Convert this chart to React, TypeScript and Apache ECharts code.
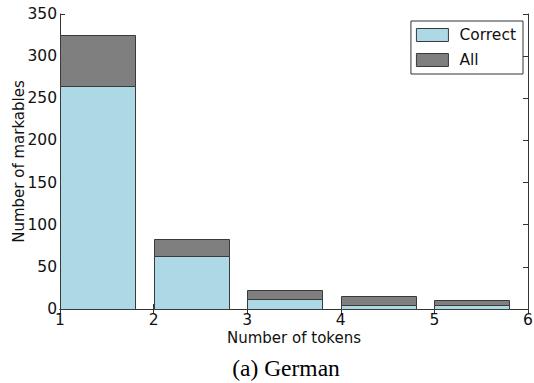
import React, { useEffect, useRef } from "react";
import * as echarts from "echarts";

// Token-count bins; each bar spans [bin, bin + barSpan] on the x axis
const tokenBins = [1, 2, 3, 4, 5];
const barSpan = 0.8;
const correctCounts = [265, 63, 12, 5, 5];
const allCounts = [325, 83, 22, 15, 11];
const xTicks = { min: 1, max: 6, interval: 1 };
const yTicks = { min: 0, max: 350, interval: 50 };

const CORRECT_COLOR = "#add8e6";
const ALL_COLOR = "#7f7f7f";
const EDGE_COLOR = "#3a3a3a";
const AXIS_COLOR = "#333";
const FONT = "DejaVu Sans";

function barSeries(name: string, counts: number[], color: string, z: number) {
  return {
    type: "custom",
    name,
    z,
    xAxisIndex: 0,
    yAxisIndex: 0,
    itemStyle: { color, borderColor: EDGE_COLOR, borderWidth: 1 },
    data: tokenBins.map((b, i) => [b, b + barSpan, counts[i]]),
    renderItem: (_params: any, api: any) => {
      const x0 = api.value(0);
      const x1 = api.value(1);
      const v = api.value(2);
      const topLeft = api.coord([x0, v]);
      const bottomRight = api.coord([x1, 0]);
      return {
        type: "rect",
        shape: {
          x: Math.round(topLeft[0]) + 0.5,
          y: Math.round(topLeft[1]) + 0.5,
          width: Math.round(bottomRight[0] - topLeft[0]),
          height: Math.round(bottomRight[1] - topLeft[1]),
        },
        style: { fill: color, stroke: EDGE_COLOR, lineWidth: 1 },
      };
    },
  };
}

export default function App() {
  const ref = useRef<HTMLDivElement>(null);

  useEffect(() => {
    if (!ref.current) return;
    const chart = echarts.init(ref.current, null, { renderer: "svg" });

    const tickStyle = {
      show: true,
      inside: true,
      length: 5,
      lineStyle: { color: AXIS_COLOR, width: 1 },
    };
    const lineStyle = { show: true, lineStyle: { color: AXIS_COLOR, width: 1 } };
    const labelStyle = { color: "#111", fontFamily: FONT, fontSize: 15.5 };

    chart.setOption({
      animation: false,
      backgroundColor: "#fff",
      grid: {
        left: 60,
        top: 14,
        width: 468,
        height: 295,
        containLabel: false,
        outerBoundsMode: "none",
      },
      legend: {
        orient: "vertical",
        right: 11,
        top: 21,
        align: "left",
        padding: [6, 7, 6, 5],
        itemGap: 9,
        itemWidth: 32,
        itemHeight: 13,
        borderColor: "#333",
        borderWidth: 1,
        borderRadius: 0,
        backgroundColor: "#fff",
        textStyle: { color: "#111", fontFamily: FONT, fontSize: 15.5, padding: [0, 0, 0, 6] },
        data: [
          { name: "Correct", icon: "rect", itemStyle: { color: CORRECT_COLOR, borderColor: EDGE_COLOR, borderWidth: 1 } },
          { name: "All", icon: "rect", itemStyle: { color: ALL_COLOR, borderColor: EDGE_COLOR, borderWidth: 1 } },
        ],
      },
      xAxis: [
        {
          type: "value",
          ...xTicks,
          position: "bottom",
          name: "Number of tokens",
          nameLocation: "middle",
          nameGap: 21,
          nameMoveOverlap: false,
          nameTextStyle: { color: "#111", fontFamily: FONT, fontSize: 15 },
          axisLine: lineStyle,
          axisTick: tickStyle,
          axisLabel: { ...labelStyle, margin: 3, showMinLabel: true, showMaxLabel: true },
          splitLine: { show: false },
        },
        {
          type: "value",
          ...xTicks,
          position: "top",
          axisLine: lineStyle,
          axisTick: tickStyle,
          axisLabel: { show: false },
          splitLine: { show: false },
        },
      ],
      yAxis: [
        {
          type: "value",
          ...yTicks,
          position: "left",
          name: "Number of markables",
          nameLocation: "middle",
          nameGap: 34,
          nameMoveOverlap: false,
          nameTextStyle: { color: "#111", fontFamily: FONT, fontSize: 15 },
          axisLine: lineStyle,
          axisTick: tickStyle,
          axisLabel: { ...labelStyle, margin: 3, showMinLabel: true, showMaxLabel: true },
          splitLine: { show: false },
        },
        {
          type: "value",
          ...yTicks,
          position: "right",
          axisLine: lineStyle,
          axisTick: tickStyle,
          axisLabel: { show: false },
          splitLine: { show: false },
        },
      ],
      graphic: [
        {
          type: "text",
          x: 286,
          y: 368,
          style: {
            text: "(a) German",
            fill: "#000",
            font: '23.5px "Liberation Serif"',
            textAlign: "center",
            textVerticalAlign: "middle",
          },
        },
      ],
      series: [
        barSeries("All", allCounts, ALL_COLOR, 2),
        barSeries("Correct", correctCounts, CORRECT_COLOR, 3),
      ],
    });

    return () => chart.dispose();
  }, []);

  return (
    <div
      ref={ref}
      style={{ position: "fixed", left: 0, top: 0, width: 534, height: 383 }}
    />
  );
}
